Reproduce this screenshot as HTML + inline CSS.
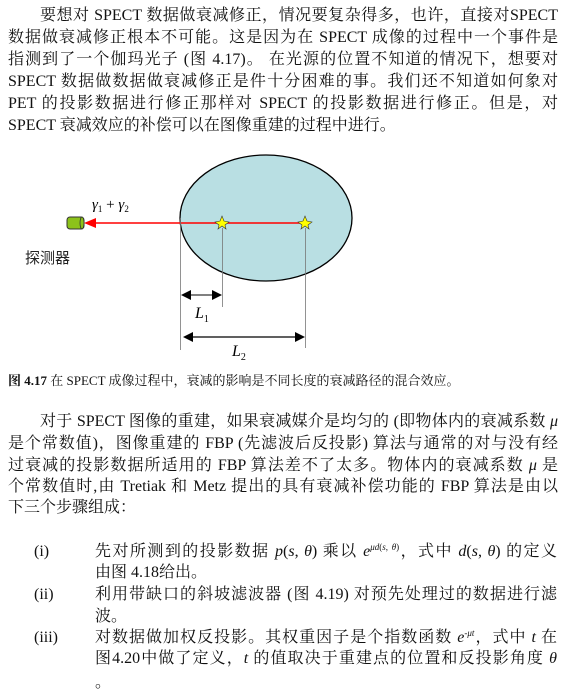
<!DOCTYPE html>
<html><head><meta charset="utf-8"><style>
body{margin:0;width:577px;height:693px;background:#fff;position:relative;overflow:hidden;font-family:"Liberation Serif","Noto Serif CJK SC",serif;color:#111}
.l{position:absolute;font-size:16px;line-height:20px;white-space:nowrap;text-align:justify;text-align-last:justify}
i{font-style:italic}
sup{font-size:9px;vertical-align:6px;line-height:0}
</style></head><body>
<div class="l" style="left:40px;width:518px;top:6px">要想对 SPECT 数据做衰减修正，情况要复杂得多，也许，直接对SPECT</div>
<div class="l" style="left:8px;width:550px;top:28px">数据做衰减修正根本不可能。这是因为在 SPECT 成像的过程中一个事件是</div>
<div class="l" style="left:8px;width:550px;top:50px">指测到了一个伽玛光子 (图 4.17)。 在光源的位置不知道的情况下，想要对</div>
<div class="l" style="left:8px;width:550px;top:72px">SPECT 数据做数据做衰减修正是件十分困难的事。我们还不知道如何象对</div>
<div class="l" style="left:8px;width:550px;top:94px">PET 的投影数据进行修正那样对 SPECT 的投影数据进行修正。但是，对</div>
<div class="l" style="left:8px;top:116px;text-align:left;text-align-last:left">SPECT 衰减效应的补偿可以在图像重建的过程中进行。</div>

<svg style="position:absolute;left:0;top:0" width="577" height="370">
<ellipse cx="266" cy="218" rx="86" ry="63" fill="#b9dfe3" stroke="#000" stroke-width="1.3"/>
<line x1="305" y1="223" x2="90" y2="223" stroke="#f00" stroke-width="1.5"/>
<polygon points="84,223 96,218 96,228" fill="#f00"/>
<rect x="67" y="217" width="17" height="12" rx="3" fill="#8cc21a" stroke="#333" stroke-width="1"/>
<ellipse cx="82" cy="223" rx="2" ry="6" fill="#8cc21a" stroke="#333" stroke-width="0.8"/>
<g fill="#ff0" stroke="#333" stroke-width="0.6">
<polygon points="222,216 224,221 229,222 225,225 226,229 222,226 218,229 219,225 215,222 220,221"/>
<polygon points="305,216 307,221 312,222 308,225 309,229 305,226 301,229 302,225 298,222 303,221"/>
</g>
<g stroke="#777" stroke-width="0.8">
<line x1="180.5" y1="218" x2="180.5" y2="350"/>
<line x1="222.5" y1="228" x2="222.5" y2="307"/>
<line x1="305.5" y1="228" x2="305.5" y2="348"/>
</g>
<line x1="185" y1="295" x2="218" y2="295" stroke="#000"/>
<polygon points="181,295 191,290 191,300" fill="#000"/>
<polygon points="222,295 212,290 212,300" fill="#000"/>
<line x1="187" y1="337" x2="300" y2="337" stroke="#000" stroke-width="1.3"/>
<polygon points="183,337 193,332 193,342" fill="#000"/>
<polygon points="305,337 295,332 295,342" fill="#000"/>
<text x="92" y="209" style="font-family:'Liberation Serif',serif" font-size="15"><tspan font-style="italic">γ</tspan><tspan font-size="9" dy="3">1</tspan><tspan dy="-3"> + </tspan><tspan font-style="italic">γ</tspan><tspan font-size="9" dy="3">2</tspan></text>
<text x="25" y="263" style="font-family:'Noto Sans CJK SC',sans-serif" font-size="15" fill="#222">探测器</text>
<text x="195" y="318" style="font-family:'Liberation Serif',serif" font-size="16" font-style="italic">L<tspan font-size="10" dy="4" font-style="normal">1</tspan></text>
<text x="232" y="356" style="font-family:'Liberation Serif',serif" font-size="16" font-style="italic">L<tspan font-size="10" dy="4" font-style="normal">2</tspan></text>
</svg>

<div class="l" style="left:8px;top:371px;font-size:13px;text-align:left;text-align-last:left"><b>图 4.17</b> 在 SPECT 成像过程中，衰减的影响是不同长度的衰减路径的混合效应。</div>

<div class="l" style="left:40px;width:518px;top:412px">对于 SPECT 图像的重建，如果衰减媒介是均匀的 (即物体内的衰减系数 <i>μ</i></div>
<div class="l" style="left:8px;width:550px;top:434px">是个常数值)，图像重建的 FBP (先滤波后反投影) 算法与通常的对与没有经</div>
<div class="l" style="left:8px;width:550px;top:456px">过衰减的投影数据所适用的 FBP 算法差不了太多。物体内的衰减系数 <i>μ</i> 是</div>
<div class="l" style="left:8px;width:550px;top:477px">个常数值时,由 Tretiak 和 Metz 提出的具有衰减补偿功能的 FBP 算法是由以</div>
<div class="l" style="left:8px;top:498px;text-align:left;text-align-last:left">下三个步骤组成：</div>

<div class="l" style="left:34px;top:542px">(i)</div>
<div class="l" style="left:95px;width:462px;top:542px">先对所测到的投影数据 <i>p</i>(<i>s</i>, <i>θ</i>) 乘以 <i>e</i><sup><i>μd</i>(<i>s</i>, <i>θ</i>)</sup>，式中 <i>d</i>(<i>s</i>, <i>θ</i>) 的定义</div>
<div class="l" style="left:95px;top:563px;text-align:left;text-align-last:left">由图 4.18给出。</div>
<div class="l" style="left:34px;top:585px">(ii)</div>
<div class="l" style="left:95px;width:462px;top:585px">利用带缺口的斜坡滤波器 (图 4.19) 对预先处理过的数据进行滤</div>
<div class="l" style="left:95px;top:607px;text-align:left;text-align-last:left">波。</div>
<div class="l" style="left:34px;top:628px">(iii)</div>
<div class="l" style="left:95px;width:462px;top:628px">对数据做加权反投影。其权重因子是个指数函数 <i>e</i><sup>-<i>μt</i></sup>，式中 <i>t</i> 在</div>
<div class="l" style="left:95px;width:462px;top:649px">图4.20中做了定义，<i>t</i> 的值取决于重建点的位置和反投影角度 <i>θ</i></div>
<div class="l" style="left:95px;top:673px;text-align:left;text-align-last:left">。</div>
</body></html>
